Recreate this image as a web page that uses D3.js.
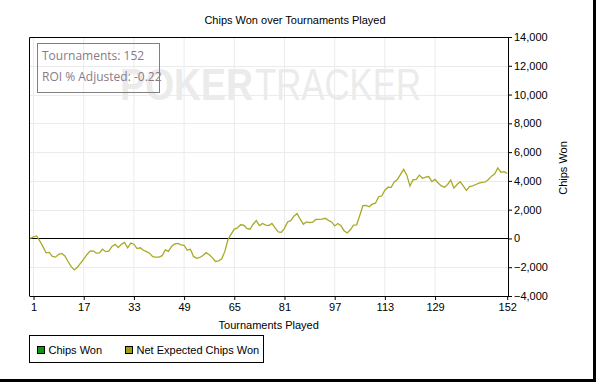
<!DOCTYPE html>
<html><head><meta charset="utf-8">
<script src="https://cdn.jsdelivr.net/npm/d3@7"></script>
<style>
body{margin:0;background:#fff;}
svg{display:block;font-family:Arial,"Liberation Sans",sans-serif;}
</style></head>
<body><svg id="c" width="596" height="382"></svg>
<script>
const chartTitle = "Chips Won over Tournaments Played";
const xTitle = "Tournaments Played";
const yTitle = "Chips Won";
const xTicks = [1,17,33,49,65,81,97,113,129,152];
const yTicks = [-4000,-2000,0,2000,4000,6000,8000,10000,12000,14000];
const seriesNames = ["Chips Won","Net Expected Chips Won"];
const seriesColors = ["#0a9a0a","#a0a010"];
const infoLines = ["Tournaments: 152","ROI % Adjusted: -0.22"];
// Net Expected Chips Won, tournaments 0..152
const netExpected = [
0,110,170,-180,-570,-1000,-970,-1250,-1300,-1100,
-1040,-1220,-1600,-1960,-2190,-2000,-1720,-1430,-1130,-880,
-860,-1020,-1000,-750,-920,-880,-550,-410,-630,-400,
-270,-650,-320,-400,-700,-650,-820,-920,-1030,-1270,
-1300,-1300,-1200,-800,-900,-560,-380,-350,-450,-480,
-820,-750,-1250,-1380,-1320,-1190,-990,-1130,-1330,-1600,
-1560,-1410,-900,-60,300,650,730,950,920,700,
640,990,1240,900,1040,930,900,1040,730,460,
420,700,1150,1240,1550,1730,1340,990,1150,1100,
1130,1320,1330,1340,1400,1260,1150,870,1040,880,
540,380,600,930,950,1600,2280,2300,2200,2380,
2450,2900,2950,3350,3560,3550,3920,4100,4450,4800,
4400,3640,4080,4100,4400,4180,4260,4300,3950,4100,
3850,3650,3560,3750,4060,3500,3750,3940,3650,3330,
3600,3650,3750,3840,3900,3930,4100,4330,4470,4900,
4600,4640,4520];

const svg = d3.select("#c");
const W = 596, H = 382;
const plot = {l:29.5, r:508, t:37, b:296};

// outer shadow border
svg.append("rect").attr("x",593).attr("y",0).attr("width",3).attr("height",H).attr("fill","#000");
svg.append("rect").attr("x",0).attr("y",379).attr("width",W).attr("height",3).attr("fill","#000");

const x = d3.scaleLinear().domain([0,152]).range([30.4,507.2]);
const y = d3.scaleLinear().domain([-4000,14000]).range([plot.b,plot.t]);

// title
svg.append("text").attr("x",295).attr("y",24).attr("text-anchor","middle")
  .attr("font-size",11).attr("fill","#000").text(chartTitle);

// grid
const g = svg.append("g");
g.selectAll(".vg").data(xTicks.slice(0,-1)).join("line")
  .attr("x1",d=>x(d)).attr("x2",d=>x(d)).attr("y1",plot.t).attr("y2",plot.b)
  .attr("stroke","#ebebeb").attr("stroke-width",1);
g.selectAll(".hg").data(yTicks.slice(1,-1)).join("line")
  .attr("x1",plot.l).attr("x2",plot.r).attr("y1",d=>Math.round(y(d))+0.5).attr("y2",d=>Math.round(y(d))+0.5)
  .attr("stroke","#ebebeb").attr("stroke-width",1);

// watermark
const wm = svg.append("g").attr("fill","#ebebeb");
wm.append("text").attr("x",120).attr("y",100).attr("font-size",44).attr("font-weight","bold")
  .attr("textLength",133).attr("lengthAdjust","spacingAndGlyphs").text("POKER");
wm.append("text").attr("x",255).attr("y",100).attr("font-size",44)
  .attr("textLength",166).attr("lengthAdjust","spacingAndGlyphs").text("TRACKER");

// zero line
svg.append("line").attr("x1",plot.l).attr("x2",plot.r)
  .attr("y1",Math.round(y(0))+0.5).attr("y2",Math.round(y(0))+0.5)
  .attr("stroke","#000").attr("stroke-width",1);

// series line
svg.append("defs").append("clipPath").attr("id","clp").append("rect")
  .attr("x",plot.l).attr("y",plot.t).attr("width",plot.r-plot.l).attr("height",plot.b-plot.t);
const line = d3.line().x((d,i)=>x(i)).y(d=>y(d));
svg.append("path").datum(netExpected).attr("d",line).attr("clip-path","url(#clp)")
  .attr("fill","none").attr("stroke","#a9a928").attr("stroke-width",1.3);

// frame
svg.append("path").attr("d",`M${plot.l},${plot.b}V${plot.t+0.5}H${plot.r}`)
  .attr("fill","none").attr("stroke","#000").attr("stroke-width",1);

// axes
const yAxis = d3.axisRight(y).tickValues(yTicks).tickFormat(d3.format(",")).tickSize(4).tickPadding(2);
const ya = svg.append("g").attr("transform",`translate(${plot.r},0)`).call(yAxis);
const xAxis = d3.axisBottom(x).tickValues(xTicks).tickSize(4).tickPadding(3);
const xa = svg.append("g").attr("transform",`translate(0,${plot.b})`).call(xAxis);
xa.select(".domain").attr("d",`M${plot.l},0.5H${plot.r}`);
[ya,xa].forEach(a=>{
  a.selectAll("text").attr("font-size",11).attr("font-family","Arial,'Liberation Sans',sans-serif").attr("fill","#000");
  a.selectAll("line,path").attr("stroke","#000");
});

// axis titles
svg.append("text").attr("x",268.7).attr("y",329).attr("text-anchor","middle")
  .attr("font-size",11).text(xTitle);
svg.append("text").attr("transform","translate(567,168) rotate(-90)").attr("text-anchor","middle")
  .attr("font-size",11).text(yTitle);

// info box
svg.append("rect").attr("x",37.5).attr("y",43.5).attr("width",122).attr("height",49)
  .attr("fill","none").attr("stroke","#808080").attr("stroke-width",1);
svg.selectAll(".info").data(infoLines).join("text")
  .attr("x",42).attr("y",(d,i)=>60+i*21).attr("font-size",12)
  .attr("font-family","'Open Sans','Noto Sans',sans-serif").attr("fill","#8a7a88").text(d=>d);

// legend
const lg = svg.append("g");
lg.append("rect").attr("x",29.5).attr("y",335.5).attr("width",234).attr("height",27)
  .attr("fill","#fff").attr("stroke","#000");
const lx = [37.5,125.5];
seriesNames.forEach((n,i)=>{
  lg.append("rect").attr("x",lx[i]).attr("y",346.5).attr("width",7).attr("height",7)
    .attr("fill",seriesColors[i]).attr("stroke","#000");
  lg.append("text").attr("x",lx[i]+11).attr("y",354).attr("font-size",11).text(n);
});
</script></body></html>
